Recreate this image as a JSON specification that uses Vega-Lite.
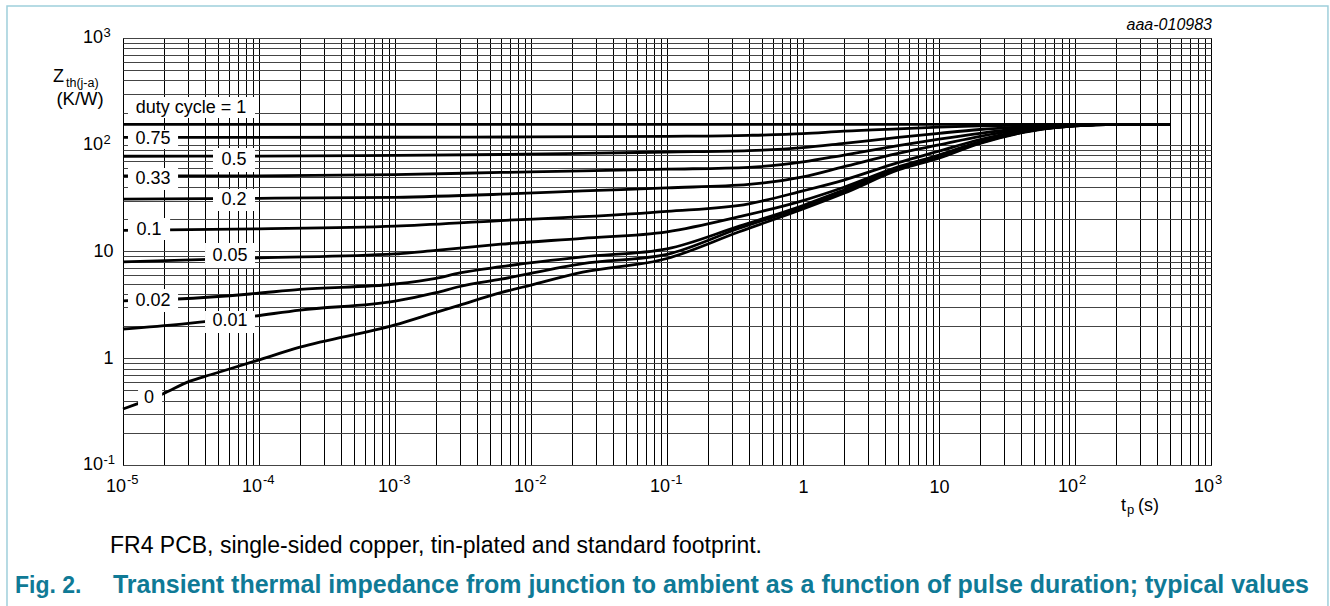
{
  "$schema": "https://vega.github.io/schema/vega-lite/v6.json",
  "autosize": "none",
  "width": 1088,
  "height": 427,
  "padding": {"left": 123, "top": 38, "right": 119, "bottom": 141},
  "background": "white",
  "config": {
    "font": "Liberation Sans",
    "view": {"stroke": "#000", "strokeWidth": 1}
  },
  "datasets": {
    "curves": [
      {"d":"1","t":1e-5,"z":155},{"d":"1","t":0.01,"z":155},{"d":"1","t":10,"z":155},{"d":"1","t":500,"z":155},
      {"d":"0.75","t":1e-5,"z":117},{"d":"0.75","t":1e-3,"z":117.6},{"d":"0.75","t":1e-2,"z":118.3},{"d":"0.75","t":0.1,"z":120},{"d":"0.75","t":0.4,"z":122.5},{"d":"0.75","t":1,"z":127},{"d":"0.75","t":2,"z":134},{"d":"0.75","t":5,"z":141},{"d":"0.75","t":10,"z":146},{"d":"0.75","t":20,"z":150},{"d":"0.75","t":50,"z":153},{"d":"0.75","t":100,"z":154.5},{"d":"0.75","t":200,"z":155},{"d":"0.75","t":500,"z":155},
      {"d":"0.5","t":1e-5,"z":78},{"d":"0.5","t":1e-4,"z":78.4},{"d":"0.5","t":1e-3,"z":79.5},{"d":"0.5","t":6e-3,"z":81},{"d":"0.5","t":0.024,"z":83},{"d":"0.5","t":0.1,"z":85.5},{"d":"0.5","t":0.4,"z":88},{"d":"0.5","t":1,"z":94},{"d":"0.5","t":2,"z":103},{"d":"0.5","t":5,"z":117},{"d":"0.5","t":10,"z":128},{"d":"0.5","t":20,"z":139},{"d":"0.5","t":50,"z":149},{"d":"0.5","t":100,"z":153.5},{"d":"0.5","t":200,"z":155},{"d":"0.5","t":500,"z":155},
      {"d":"0.33","t":1e-5,"z":51},{"d":"0.33","t":1e-4,"z":51.2},{"d":"0.33","t":1e-3,"z":52.5},{"d":"0.33","t":6e-3,"z":55},{"d":"0.33","t":0.024,"z":56.8},{"d":"0.33","t":0.1,"z":59},{"d":"0.33","t":0.4,"z":61.5},{"d":"0.33","t":1,"z":69},{"d":"0.33","t":2,"z":80},{"d":"0.33","t":5,"z":98},{"d":"0.33","t":10,"z":113},{"d":"0.33","t":20,"z":128},{"d":"0.33","t":50,"z":146},{"d":"0.33","t":100,"z":153},{"d":"0.33","t":200,"z":155},{"d":"0.33","t":500,"z":155},
      {"d":"0.2","t":1e-5,"z":31},{"d":"0.2","t":1e-4,"z":31.5},{"d":"0.2","t":1e-3,"z":32.2},{"d":"0.2","t":6e-3,"z":34.4},{"d":"0.2","t":0.024,"z":36.9},{"d":"0.2","t":0.1,"z":39.5},{"d":"0.2","t":0.4,"z":42.5},{"d":"0.2","t":1,"z":50},{"d":"0.2","t":2,"z":62.3},{"d":"0.2","t":5,"z":83},{"d":"0.2","t":10,"z":99.5},{"d":"0.2","t":20,"z":120},{"d":"0.2","t":50,"z":143},{"d":"0.2","t":100,"z":152},{"d":"0.2","t":200,"z":155},{"d":"0.2","t":500,"z":155},
      {"d":"0.1","t":1e-5,"z":15.8},{"d":"0.1","t":1e-4,"z":16.3},{"d":"0.1","t":1e-3,"z":17.3},{"d":"0.1","t":6e-3,"z":19.5},{"d":"0.1","t":0.024,"z":21.2},{"d":"0.1","t":0.1,"z":23.8},{"d":"0.1","t":0.4,"z":28},{"d":"0.1","t":1,"z":37},{"d":"0.1","t":2,"z":46.7},{"d":"0.1","t":5,"z":68},{"d":"0.1","t":10,"z":87},{"d":"0.1","t":20,"z":112},{"d":"0.1","t":50,"z":140},{"d":"0.1","t":100,"z":151},{"d":"0.1","t":200,"z":155},{"d":"0.1","t":500,"z":155},
      {"d":"0.05","t":1e-5,"z":8.0},{"d":"0.05","t":1e-4,"z":8.7},{"d":"0.05","t":1e-3,"z":9.48},{"d":"0.05","t":2e-3,"z":10.26},{"d":"0.05","t":6e-3,"z":11.7},{"d":"0.05","t":0.024,"z":13.3},{"d":"0.05","t":0.1,"z":15.3},{"d":"0.05","t":0.34,"z":21.2},{"d":"0.05","t":1,"z":30},{"d":"0.05","t":2,"z":40},{"d":"0.05","t":5,"z":62},{"d":"0.05","t":10,"z":80},{"d":"0.05","t":20,"z":107},{"d":"0.05","t":50,"z":138},{"d":"0.05","t":100,"z":151},{"d":"0.05","t":200,"z":155},{"d":"0.05","t":500,"z":155},
      {"d":"0.02","t":1e-5,"z":3.45},{"d":"0.02","t":2.5e-5,"z":3.59},{"d":"0.02","t":8.6e-5,"z":4.0},{"d":"0.02","t":2e-4,"z":4.42},{"d":"0.02","t":1e-3,"z":4.96},{"d":"0.02","t":2e-3,"z":5.61},{"d":"0.02","t":3e-3,"z":6.3},{"d":"0.02","t":6e-3,"z":7.2},{"d":"0.02","t":0.024,"z":8.9},{"d":"0.02","t":0.1,"z":10.6},{"d":"0.02","t":0.34,"z":17.3},{"d":"0.02","t":1,"z":27},{"d":"0.02","t":2,"z":37.7},{"d":"0.02","t":5,"z":60},{"d":"0.02","t":10,"z":78},{"d":"0.02","t":20,"z":105},{"d":"0.02","t":50,"z":137},{"d":"0.02","t":100,"z":150},{"d":"0.02","t":200,"z":155},{"d":"0.02","t":500,"z":155},
      {"d":"0.01","t":1e-5,"z":1.88},{"d":"0.01","t":2.7e-5,"z":2.09},{"d":"0.01","t":8.6e-5,"z":2.45},{"d":"0.01","t":2e-4,"z":2.83},{"d":"0.01","t":1e-3,"z":3.42},{"d":"0.01","t":2e-3,"z":4.11},{"d":"0.01","t":3e-3,"z":4.7},{"d":"0.01","t":6e-3,"z":5.5},{"d":"0.01","t":0.024,"z":7.7},{"d":"0.01","t":0.1,"z":9.4},{"d":"0.01","t":0.34,"z":16.5},{"d":"0.01","t":1,"z":26},{"d":"0.01","t":2,"z":36.3},{"d":"0.01","t":5,"z":59},{"d":"0.01","t":10,"z":77},{"d":"0.01","t":20,"z":104},{"d":"0.01","t":50,"z":137},{"d":"0.01","t":100,"z":150},{"d":"0.01","t":200,"z":155},{"d":"0.01","t":500,"z":155},
      {"d":"0","t":1e-5,"z":0.335},{"d":"0","t":1.3e-5,"z":0.378},{"d":"0","t":1.94e-5,"z":0.46},{"d":"0","t":3.1e-5,"z":0.61},{"d":"0","t":4.4e-5,"z":0.7},{"d":"0","t":9.6e-5,"z":0.95},{"d":"0","t":2e-4,"z":1.27},{"d":"0","t":1e-3,"z":2.05},{"d":"0","t":2e-3,"z":2.69},{"d":"0","t":3e-3,"z":3.15},{"d":"0","t":6e-3,"z":4.11},{"d":"0","t":0.01,"z":4.85},{"d":"0","t":0.024,"z":6.4},{"d":"0","t":0.1,"z":8.6},{"d":"0","t":0.34,"z":15.3},{"d":"0","t":1,"z":25},{"d":"0","t":2,"z":35.1},{"d":"0","t":5,"z":58},{"d":"0","t":10,"z":75},{"d":"0","t":20,"z":103},{"d":"0","t":50,"z":136},{"d":"0","t":100,"z":150},{"d":"0","t":200,"z":155},{"d":"0","t":500,"z":155}
    ],
    "labels": [
      {"label":"duty cycle = 1","x1":1.088e-5,"x2":9.35e-5,"y1":280,"y2":178,"tx":3.16e-5,"ty":223},
      {"label":"0.75","x1":1.088e-5,"x2":2.54e-5,"y1":137.5,"y2":91.2,"tx":1.663e-5,"ty":112},
      {"label":"0.5","x1":4.59e-5,"x2":9.35e-5,"y1":93.2,"y2":55.5,"tx":6.55e-5,"ty":72},
      {"label":"0.33","x1":1.088e-5,"x2":2.54e-5,"y1":60.6,"y2":37.7,"tx":1.663e-5,"ty":47.3},
      {"label":"0.2","x1":4.59e-5,"x2":9.35e-5,"y1":38.5,"y2":23.96,"tx":6.55e-5,"ty":30.4},
      {"label":"0.1","x1":1.088e-5,"x2":2.22e-5,"y1":20.6,"y2":12.8,"tx":1.553e-5,"ty":16.07},
      {"label":"0.05","x1":4.01e-5,"x2":9.35e-5,"y1":12.0,"y2":7.0,"tx":6.12e-5,"ty":9.17},
      {"label":"0.02","x1":1.088e-5,"x2":2.54e-5,"y1":4.45,"y2":2.71,"tx":1.663e-5,"ty":3.475},
      {"label":"0.01","x1":4.01e-5,"x2":9.35e-5,"y1":2.77,"y2":1.724,"tx":6.12e-5,"ty":2.234},
      {"label":"0","x1":1.29e-5,"x2":1.94e-5,"y1":0.538,"y2":0.3275,"tx":1.553e-5,"ty":0.424}
    ],
    "xexp": [
      {"t":1e-5,"e":"-5"},{"t":1e-4,"e":"-4"},{"t":1e-3,"e":"-3"},{"t":1e-2,"e":"-2"},{"t":0.1,"e":"-1"},{"t":100,"e":"2"},{"t":1000,"e":"3"}
    ],
    "yexp": [
      {"z":0.1,"e":"-1"},{"z":100,"e":"2"},{"z":1000,"e":"3"}
    ],
    "one": [{}]
  },
  "layer": [
    {
      "data": {"name": "curves"},
      "mark": {"type": "line", "interpolate": "monotone", "strokeWidth": 2.8, "color": "#000", "strokeCap": "butt"},
      "encoding": {
        "x": {"field": "t", "type": "quantitative", "scale": {"type": "log", "domain": [1e-5, 1000], "nice": false},
          "axis": {"title": null, "values": [1e-5,2e-5,3e-5,4e-5,5e-5,6e-5,7e-5,8e-5,9e-5,1e-4,2e-4,3e-4,4e-4,5e-4,6e-4,7e-4,8e-4,9e-4,1e-3,2e-3,3e-3,4e-3,5e-3,6e-3,7e-3,8e-3,9e-3,0.01,0.02,0.03,0.04,0.05,0.06,0.07,0.08,0.09,0.1,0.2,0.3,0.4,0.5,0.6,0.7,0.8,0.9,1,2,3,4,5,6,7,8,9,10,20,30,40,50,60,70,80,90,100,200,300,400,500,600,700,800,900,1000],
            "labelExpr": "datum.value == 1 ? '1' : datum.value == 10 ? '10' : ''",
            "grid": true, "gridColor": "#000", "gridWidth": 1, "gridOpacity": 1, "ticks": false, "domain": false,
            "labelOverlap": false, "labelFlush": false, "labelFontSize": 18, "labelColor": "#000", "labelFont": "Liberation Sans",
            "labelBaseline": "alphabetic", "labelPadding": 27, "labelAlign": "center"}},
        "y": {"field": "z", "type": "quantitative", "scale": {"type": "log", "domain": [0.1, 1000], "nice": false},
          "axis": {"title": null, "values": [0.1,0.2,0.3,0.4,0.5,0.6,0.7,0.8,0.9,1,2,3,4,5,6,7,8,9,10,20,30,40,50,60,70,80,90,100,200,300,400,500,600,700,800,900,1000],
            "labelExpr": "datum.value == 1 ? '1' : datum.value == 10 ? '10' : ''",
            "grid": true, "gridColor": "#444", "gridWidth": 1, "gridOpacity": 1, "ticks": false, "domain": false,
            "labelOverlap": false, "labelFlush": false, "labelFontSize": 18, "labelColor": "#000", "labelFont": "Liberation Sans",
            "labelBaseline": "middle", "labelPadding": 10, "labelAlign": "right"}},
        "detail": {"field": "d", "type": "nominal"}
      }
    },
    {
      "data": {"name": "xexp"},
      "mark": {"type": "text", "text": "10", "fontSize": 18, "align": "right", "baseline": "alphabetic", "color": "#000", "dx": 3, "dy": 27},
      "encoding": {
        "x": {"field": "t", "type": "quantitative", "scale": {"type": "log", "domain": [1e-5, 1000], "nice": false}},
        "y": {"datum": 0.1, "type": "quantitative", "scale": {"type": "log", "domain": [0.1, 1000], "nice": false}}
      }
    },
    {
      "data": {"name": "xexp"},
      "mark": {"type": "text", "fontSize": 13, "align": "left", "baseline": "alphabetic", "color": "#000", "dx": 4, "dy": 19},
      "encoding": {
        "x": {"field": "t", "type": "quantitative", "scale": {"type": "log", "domain": [1e-5, 1000], "nice": false}},
        "y": {"datum": 0.1, "type": "quantitative", "scale": {"type": "log", "domain": [0.1, 1000], "nice": false}},
        "text": {"field": "e", "type": "nominal"}
      }
    },
    {
      "data": {"name": "yexp"},
      "mark": {"type": "text", "text": "10", "fontSize": 18, "align": "right", "baseline": "middle", "color": "#000", "dx": -20},
      "encoding": {
        "x": {"datum": 1e-5, "type": "quantitative", "scale": {"type": "log", "domain": [1e-5, 1000], "nice": false}},
        "y": {"field": "z", "type": "quantitative", "scale": {"type": "log", "domain": [0.1, 1000], "nice": false}}
      }
    },
    {
      "data": {"name": "yexp"},
      "mark": {"type": "text", "fontSize": 13, "align": "left", "baseline": "alphabetic", "color": "#000", "dx": -19.5, "dy": -1},
      "encoding": {
        "x": {"datum": 1e-5, "type": "quantitative", "scale": {"type": "log", "domain": [1e-5, 1000], "nice": false}},
        "y": {"field": "z", "type": "quantitative", "scale": {"type": "log", "domain": [0.1, 1000], "nice": false}},
        "text": {"field": "e", "type": "nominal"}
      }
    },
    {
      "data": {"name": "one"},
      "mark": {"type": "rect", "fill": null, "stroke": "#9fcfdb", "strokeWidth": 1.5},
      "encoding": {
        "x": {"datum": 1.403e-6, "type": "quantitative", "scale": {"type": "log", "domain": [1e-5, 1000], "nice": false}},
        "x2": {"datum": 7244},
        "y": {"datum": 1994, "type": "quantitative", "scale": {"type": "log", "domain": [0.1, 1000], "nice": false}},
        "y2": {"datum": 0.00353}
      }
    },
    {
      "data": {"name": "labels"},
      "mark": {"type": "rect", "fill": "#fff", "stroke": null},
      "encoding": {
        "x": {"field": "x1", "type": "quantitative", "scale": {"type": "log", "domain": [1e-5, 1000], "nice": false}},
        "x2": {"field": "x2"},
        "y": {"field": "y1", "type": "quantitative", "scale": {"type": "log", "domain": [0.1, 1000], "nice": false}},
        "y2": {"field": "y2"}
      }
    },
    {
      "data": {"name": "labels"},
      "mark": {"type": "text", "fontSize": 18, "font": "Liberation Sans", "color": "#000", "align": "center", "baseline": "middle"},
      "encoding": {
        "x": {"field": "tx", "type": "quantitative", "scale": {"type": "log", "domain": [1e-5, 1000], "nice": false}},
        "y": {"field": "ty", "type": "quantitative", "scale": {"type": "log", "domain": [0.1, 1000], "nice": false}},
        "text": {"field": "label", "type": "nominal"}
      }
    },
    {
      "data": {"name": "one"},
      "mark": {"type": "text", "text": "aaa-010983", "fontSize": 16, "fontStyle": "italic", "align": "right", "baseline": "alphabetic", "color": "#000"},
      "encoding": {
        "x": {"datum": 1017, "type": "quantitative", "scale": {"type": "log", "domain": [1e-5, 1000], "nice": false}},
        "y": {"datum": 1188, "type": "quantitative", "scale": {"type": "log", "domain": [0.1, 1000], "nice": false}}
      }
    },
    {
      "data": {"name": "one"},
      "mark": {"type": "text", "text": "Z", "fontSize": 18, "align": "left", "baseline": "alphabetic", "color": "#000"},
      "encoding": {
        "x": {"datum": 3.06e-6, "type": "quantitative", "scale": {"type": "log", "domain": [1e-5, 1000], "nice": false}},
        "y": {"datum": 385, "type": "quantitative", "scale": {"type": "log", "domain": [0.1, 1000], "nice": false}}
      }
    },
    {
      "data": {"name": "one"},
      "mark": {"type": "text", "text": "th(j-a)", "fontSize": 12.5, "align": "left", "baseline": "alphabetic", "color": "#000"},
      "encoding": {
        "x": {"datum": 3.81e-6, "type": "quantitative", "scale": {"type": "log", "domain": [1e-5, 1000], "nice": false}},
        "y": {"datum": 350, "type": "quantitative", "scale": {"type": "log", "domain": [0.1, 1000], "nice": false}}
      }
    },
    {
      "data": {"name": "one"},
      "mark": {"type": "text", "text": "(K/W)", "fontSize": 18.5, "align": "center", "baseline": "alphabetic", "color": "#000"},
      "encoding": {
        "x": {"datum": 4.83e-6, "type": "quantitative", "scale": {"type": "log", "domain": [1e-5, 1000], "nice": false}},
        "y": {"datum": 238, "type": "quantitative", "scale": {"type": "log", "domain": [0.1, 1000], "nice": false}}
      }
    },
    {
      "data": {"name": "one"},
      "mark": {"type": "text", "text": "t", "fontSize": 18, "align": "left", "baseline": "alphabetic", "color": "#000"},
      "encoding": {
        "x": {"datum": 217.9, "type": "quantitative", "scale": {"type": "log", "domain": [1e-5, 1000], "nice": false}},
        "y": {"datum": 0.0371, "type": "quantitative", "scale": {"type": "log", "domain": [0.1, 1000], "nice": false}}
      }
    },
    {
      "data": {"name": "one"},
      "mark": {"type": "text", "text": "p", "fontSize": 13, "align": "left", "baseline": "alphabetic", "color": "#000"},
      "encoding": {
        "x": {"datum": 241.3, "type": "quantitative", "scale": {"type": "log", "domain": [1e-5, 1000], "nice": false}},
        "y": {"datum": 0.03475, "type": "quantitative", "scale": {"type": "log", "domain": [0.1, 1000], "nice": false}}
      }
    },
    {
      "data": {"name": "one"},
      "mark": {"type": "text", "text": "(s)", "fontSize": 18, "align": "left", "baseline": "alphabetic", "color": "#000"},
      "encoding": {
        "x": {"datum": 290.6, "type": "quantitative", "scale": {"type": "log", "domain": [1e-5, 1000], "nice": false}},
        "y": {"datum": 0.0371, "type": "quantitative", "scale": {"type": "log", "domain": [0.1, 1000], "nice": false}}
      }
    },
    {
      "data": {"name": "one"},
      "mark": {"type": "text", "text": "FR4 PCB, single-sided copper, tin-plated and standard footprint.", "fontSize": 23, "align": "left", "baseline": "alphabetic", "color": "#000"},
      "encoding": {
        "x": {"datum": 8.02e-6, "type": "quantitative", "scale": {"type": "log", "domain": [1e-5, 1000], "nice": false}},
        "y": {"datum": 0.01498, "type": "quantitative", "scale": {"type": "log", "domain": [0.1, 1000], "nice": false}}
      }
    },
    {
      "data": {"name": "one"},
      "mark": {"type": "text", "text": "Fig. 2.", "fontSize": 23, "fontWeight": "bold", "align": "left", "baseline": "alphabetic", "color": "#0f7a96"},
      "encoding": {
        "x": {"datum": 1.607e-6, "type": "quantitative", "scale": {"type": "log", "domain": [1e-5, 1000], "nice": false}},
        "y": {"datum": 0.00632, "type": "quantitative", "scale": {"type": "log", "domain": [0.1, 1000], "nice": false}}
      }
    },
    {
      "data": {"name": "one"},
      "mark": {"type": "text", "text": "Transient thermal impedance from junction to ambient as a function of pulse duration; typical values", "fontSize": 25, "fontWeight": "bold", "align": "left", "baseline": "alphabetic", "color": "#0f7a96"},
      "encoding": {
        "x": {"datum": 8.44e-6, "type": "quantitative", "scale": {"type": "log", "domain": [1e-5, 1000], "nice": false}},
        "y": {"datum": 0.00632, "type": "quantitative", "scale": {"type": "log", "domain": [0.1, 1000], "nice": false}}
      }
    }
  ]
}
